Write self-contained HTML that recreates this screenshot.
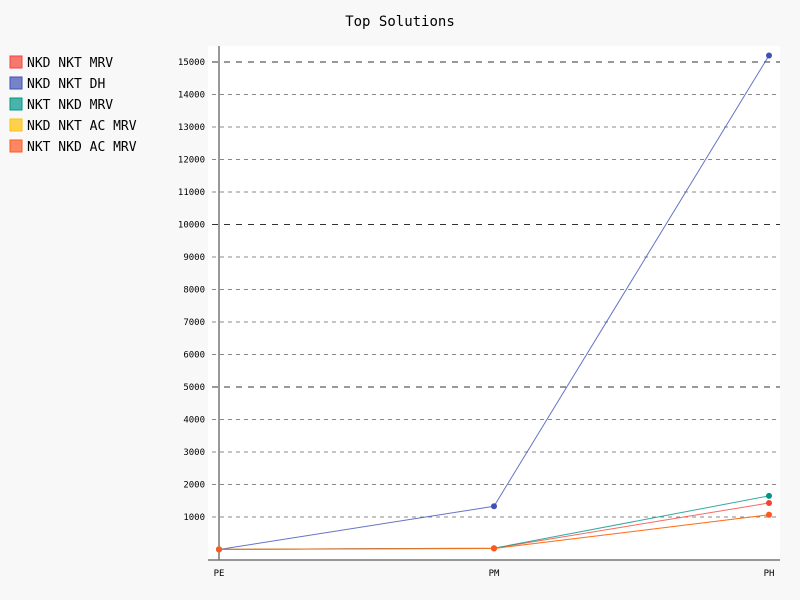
<!DOCTYPE html>
<html><head><meta charset="utf-8"><style>
body{margin:0;background:#f8f8f8;}
svg{display:block;font-family:"DejaVu Sans Mono","Liberation Mono",monospace;}
</style></head><body>
<svg id="chart" width="800" height="600">
<rect width="800" height="600" fill="#f8f8f8"/>
<rect x="208" y="46" width="572" height="514" fill="#fff"/>
<text x="400" y="26" text-anchor="middle" font-size="14" fill="#000">Top Solutions</text>
<g id="grid"></g><g id="series"></g><g id="legend"></g>
</svg>
<script>
const categories=["PE","PM","PH"];
const seriesNames=["NKD NKT MRV","NKD NKT DH","NKT NKD MRV","NKD NKT AC MRV","NKT NKD AC MRV"];
const colors=["#F44336","#3F51B5","#009688","#FFC107","#FF5722"];
const s1=[5,40,1430];
const s2=[0,1330,15200];
const s3=[5,40,1650];
const s4=[5,30,1070];
const s5=[5,30,1070];
const seriesValues=[s1,s2,s3,s4,s5];
const yTicks=[1000,2000,3000,4000,5000,6000,7000,8000,9000,10000,11000,12000,13000,14000,15000];
const NS="http://www.w3.org/2000/svg";
function yS(v){return 549.5-v*0.0325;}
function xS(i){return 219+i*275;}
function mk(t,a,p){const e=document.createElementNS(NS,t);for(const k in a)e.setAttribute(k,a[k]);p.appendChild(e);return e;}
const grid=document.getElementById('grid');
yTicks.forEach(v=>{
  const maj=v%5000===0;
  const l=mk('line',{x1:212,x2:780,y1:yS(v),y2:yS(v),stroke:maj?'#333':'#888','stroke-dasharray':maj?'6,6':'4,4','stroke-width':1},grid);
  
  
  const t=mk('text',{x:205,y:yS(v)+3,'text-anchor':'end','font-size':9,fill:'#000'},grid);
  t.textContent=v;
  
  
});
categories.forEach((c,i)=>{
  const t=mk('text',{x:xS(i),y:576,'text-anchor':'middle','font-size':9,fill:'#000'},grid);
  t.textContent=c;
  
  
});
const ax=mk('line',{x1:219,x2:219,y1:46,y2:560,stroke:'#777','stroke-width':1.5},grid);


const bx=mk('line',{x1:208,x2:780,y1:560,y2:560,stroke:'#777','stroke-width':1.5},grid);


const sg=document.getElementById('series');
seriesValues.forEach((vals,si)=>{
  const g=mk('g',{},sg);
  
  
  const pl=mk('polyline',{points:vals.map((v,i)=>xS(i)+','+yS(v)).join(' '),fill:'none',stroke:colors[si],'stroke-width':1,opacity:0.8},g);
  
  
  vals.forEach((v,i)=>{
    const c=mk('circle',{cx:xS(i),cy:yS(v),r:3,fill:colors[si]},g);
    
    
  });
});
const lg=document.getElementById('legend');
seriesNames.forEach((n,i)=>{
  const y=63+i*21;
  const r=mk('rect',{x:10,y:y-7,width:12,height:12,fill:colors[i],'fill-opacity':0.7,stroke:colors[i],'stroke-width':1},lg);
  
  
  const t=mk('text',{x:27,y:y+4,'font-size':13,fill:'#000'},lg);
  t.textContent=n;
  
  
});
</script>
</body></html>
